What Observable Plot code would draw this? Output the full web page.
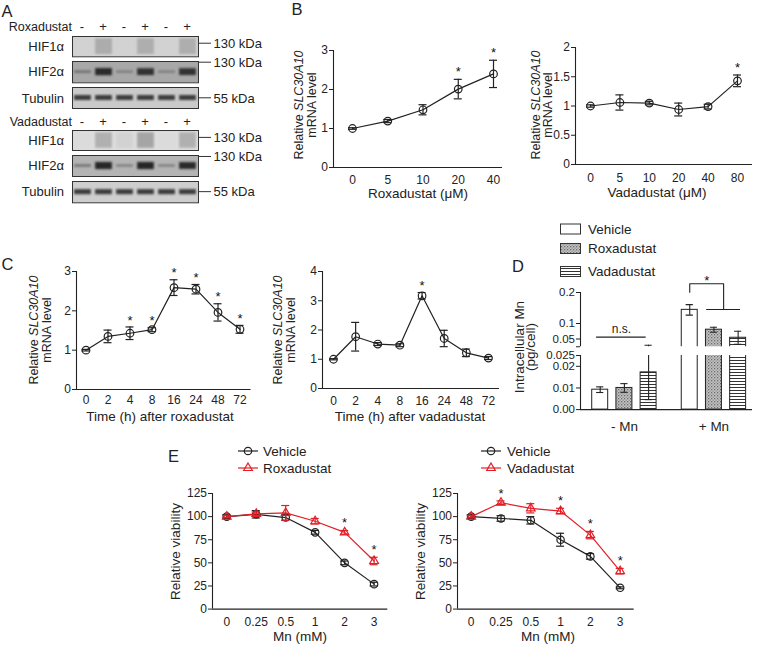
<!DOCTYPE html>
<html><head><meta charset="utf-8">
<script src="https://cdn.jsdelivr.net/npm/d3@7"></script>
<script src="https://cdn.jsdelivr.net/npm/@observablehq/plot@0.6"></script>
<style>
body{margin:0;background:#fff;}
#root{position:relative;width:757px;height:645px;overflow:hidden;background:#fff;}
</style></head><body>
<svg width="0" height="0" style="position:absolute;left:0;top:0">
<defs>
<pattern id="dots" width="3" height="3" patternUnits="userSpaceOnUse"><rect width="3" height="3" fill="#c4c4c4"/><rect x="0" y="0" width="1.3" height="1.3" fill="#6a6a6a"/><rect x="1.5" y="1.5" width="1.3" height="1.3" fill="#8c8c8c"/></pattern>
<pattern id="stripes" width="4" height="3" patternUnits="userSpaceOnUse"><rect width="4" height="3" fill="#fff"/><rect y="1" width="4" height="1" fill="#333"/></pattern>
<filter id="blotBlur" x="-20%" y="-60%" width="140%" height="220%"><feGaussianBlur stdDeviation="0.9"/></filter>
</defs></svg>
<div id="root"></div>
<script>
// ================= DATA =================
// Panel A (western blots): lanes and relative band intensities (0 = blank, 1 = black)
const blotLanes = ["-", "+", "-", "+", "-", "+"];
const blotRows = ["HIF1α", "HIF2α", "Tubulin"];
const blotMarkers = ["130 kDa", "130 kDa", "55 kDa"];
const roxBlotBands = [[0.12, 0.30, 0.12, 0.29, 0.12, 0.29], [0.56, 0.90, 0.52, 0.88, 0.52, 0.88], [0.82, 0.82, 0.82, 0.82, 0.82, 0.82]];
const roxBlotBackground = [0.12, 0.32, 0.16];
const vadBlotBands = [[0.08, 0.28, 0.12, 0.33, 0.08, 0.28], [0.56, 0.92, 0.52, 0.92, 0.52, 0.90], [0.82, 0.82, 0.82, 0.82, 0.82, 0.82]];
const vadBlotBackground = [0.07, 0.26, 0.14];

// Panel B
const roxDose = ["0", "5", "10", "20", "40"];
const roxDoseMean = [1.0, 1.19, 1.48, 2.01, 2.40];
const roxDoseErr = [0.02, 0.04, 0.13, 0.25, 0.35];
const roxDoseSig = [0, 0, 0, 1, 1];
const vadDose = ["0", "5", "10", "20", "40", "80"];
const vadDoseMean = [1.0, 1.06, 1.05, 0.94, 0.99, 1.43];
const vadDoseErr = [0.02, 0.13, 0.03, 0.11, 0.04, 0.10];
const vadDoseSig = [0, 0, 0, 0, 0, 1];

// Panel C
const timeLabels = ["0", "2", "4", "8", "16", "24", "48", "72"];
const roxTimeMean = [1.0, 1.35, 1.43, 1.52, 2.59, 2.55, 1.96, 1.53];
const roxTimeErr = [0.02, 0.16, 0.16, 0.05, 0.20, 0.12, 0.22, 0.10];
const roxTimeSig = [0, 0, 1, 1, 1, 1, 1, 1];
const vadTimeMean = [1.0, 1.77, 1.52, 1.48, 3.17, 1.71, 1.22, 1.04];
const vadTimeErr = [0.02, 0.49, 0.05, 0.05, 0.11, 0.28, 0.13, 0.05];
const vadTimeSig = [0, 0, 0, 0, 1, 0, 0, 0];

// Panel D
const dGroups = ["- Mn", "+ Mn"];
const dTreatments = ["Vehicle", "Roxadustat", "Vadadustat"];
const dBarGroup = ["- Mn", "- Mn", "- Mn", "+ Mn", "+ Mn", "+ Mn"];
const dBarTreatment = ["Vehicle", "Roxadustat", "Vadadustat", "Vehicle", "Roxadustat", "Vadadustat"];
const dMean = [0.0092, 0.0100, 0.0172, 0.144, 0.080, 0.054];
const dErr = [0.0013, 0.0020, 0.0126, 0.017, 0.008, 0.021];
const dSigLabels = ["n.s.", "*"];
const dUpperTicks = [0.025, 0.05, 0.1, 0.2];
const dUpperTickLabels = ["", "0.05", "0.1", "0.2"];
const dLowerTicks = [0, 0.01, 0.02, 0.025];
const dLowerTickLabels = ["0.00", "0.01", "0.02", "0.025"];

// Panel E
const mnLabels = ["0", "0.25", "0.5", "1", "2", "3"];
const vehRoxMean = [100, 102.5, 99, 83, 50, 27];
const vehRoxErr = [2, 4, 3, 2, 2, 2];
const roxViaMean = [100, 103, 104, 95, 83, 52];
const roxViaErr = [1, 2, 8, 3, 2, 4];
const roxViaSig = [0, 0, 0, 0, 1, 1];
const vehVadMean = [100, 98, 96, 75, 57, 23];
const vehVadErr = [2, 3, 4, 7, 3, 1];
const vadViaMean = [100, 115, 109, 106, 80, 41];
const vadViaErr = [1, 2, 5, 3, 4, 3];
const vadViaSig = [0, 1, 0, 1, 1, 1];

// ================= STYLE / HELPERS =================
const FONT = '"Liberation Sans", Arial, Helvetica, sans-serif';
const INK = "#222";
const AXIS = "#222";
const RED = "#e41e26";
const root = document.getElementById("root");
const baseStyle = {background: "transparent", fontFamily: FONT, fontSize: "12px", color: INK, overflow: "visible"};

function place(node, left, top) {
  node.style.position = "absolute";
  node.style.left = left + "px";
  node.style.top = top + "px";
  root.appendChild(node);
}

// ---- Western blot strip ----
const ROW_H = [0.78, 0.34, 0.24];
function blot(bands, bg, row, left, top, height) {
  const n = blotLanes.length;
  const idx = d3.range(n);
  const vmax = d3.max(bands);
  const hh = i => row === 0 ? ROW_H[0] / 2 : ROW_H[row] * Math.pow(bands[i] / vmax, 2) / 2;
  const svg = Plot.plot({
    width: 126, height, margin: 0,
    x: {domain: [0, n], axis: null},
    y: {domain: [0, 1], axis: null},
    color: {type: "linear", domain: [0, 1], range: ["#ececec", "#161616"]},
    style: baseStyle,
    marks: [
      Plot.rect([bg], {x1: () => 0, x2: () => n, y1: () => 0, y2: () => 1, fill: d => d}),
      Plot.rect(idx, {x1: i => i + 0.1, x2: i => i + 0.9, y1: i => 0.5 - hh(i), y2: i => 0.5 + hh(i), fill: i => bands[i]}),
      Plot.frame({stroke: "#333", strokeWidth: 1})
    ]
  });
  d3.select(svg).selectAll('g[aria-label="rect"]').filter((d, i) => i === 1).attr("filter", "url(#blotBlur)");
  place(svg, left, top);
}

// ---- Line chart with error bars ----
function lineChart(cfg) {
  const {labels, series, yDomain, yTicks, axisX, endX, firstX, lastX, yBottom, yTop,
         ml = 25, mr = 5, mt = 12, mb = 28, xPad = 8, capPx = 4, starDy = -7} = cfg;
  const n = labels.length;
  const idx = d3.range(n);
  const ppu = (lastX - firstX) / (n - 1);
  const xDomain = [(axisX - firstX) / ppu, (n - 1) + (endX - lastX) / ppu];
  const width = ml + (endX - axisX) + mr;
  const height = mt + (yBottom - yTop) + mb;
  const cap = capPx / ppu;
  const marks = [
    Plot.ruleX([xDomain[0]], {y1: () => yDomain[0], y2: () => yDomain[1], stroke: AXIS, strokeWidth: 1.1}),
    Plot.ruleY([yDomain[0]], {x1: () => xDomain[0], x2: () => xDomain[1], stroke: AXIS, strokeWidth: 1.1}),
    Plot.axisY({ticks: yTicks, tickSize: 4, tickPadding: 1.5, tickFormat: d => String(d), label: null}),
    Plot.axisX({ticks: idx, tickSize: 0, tickPadding: xPad, tickFormat: i => labels[i], label: null})
  ];
  for (const s of series) {
    const up = i => s.mean[i] + s.err[i];
    const lo = i => s.mean[i] - s.err[i];
    marks.push(
      Plot.line(idx, {x: i => i, y: i => s.mean[i], stroke: s.color, strokeWidth: 1.2}),
      Plot.ruleX(idx, {x: i => i, y1: lo, y2: up, stroke: s.color, strokeWidth: 1.2}),
      Plot.ruleY(idx, {y: up, x1: i => i - cap, x2: i => i + cap, stroke: s.color, strokeWidth: 1.2}),
      Plot.ruleY(idx, {y: lo, x1: i => i - cap, x2: i => i + cap, stroke: s.color, strokeWidth: 1.2}),
      Plot.dot(idx, {x: i => i, y: i => s.mean[i], r: s.r, symbol: s.symbol, stroke: s.color, fill: "none", strokeWidth: 1.2})
    );
    if (s.sig) marks.push(Plot.text(idx.filter(i => s.sig[i]), {x: i => i, y: up, text: () => "*", dy: starDy, fontSize: 13, fill: "#111"}));
  }
  const svg = Plot.plot({
    width, height, marginLeft: ml, marginRight: mr, marginTop: mt, marginBottom: mb,
    x: {domain: xDomain}, y: {domain: yDomain},
    style: baseStyle, marks
  });
  place(svg, axisX - ml, yTop - mt);
}

// ================= PANEL A =================
const blotLeft = 71.5;
const roxTops = [35.7, 60.7, 87.3], roxHeights = [20.3, 21.3, 21];
const vadTops = [130, 155, 181], vadHeights = [20, 21, 21.3];
blotRows.forEach((r, k) => blot(roxBlotBands[k], roxBlotBackground[k], k, blotLeft, roxTops[k], roxHeights[k]));
blotRows.forEach((r, k) => blot(vadBlotBands[k], vadBlotBackground[k], k, blotLeft, vadTops[k], vadHeights[k]));

// ================= PANEL B =================
lineChart({labels: roxDose, series: [{mean: roxDoseMean, err: roxDoseErr, sig: roxDoseSig, color: INK, symbol: "circle", r: 3.8}],
  yDomain: [0, 3], yTicks: [0, 1, 2, 3], axisX: 333, endX: 502, firstX: 352, lastX: 493, yBottom: 167, yTop: 50, xPad: 8, starDy: -7.5});
lineChart({labels: vadDose, series: [{mean: vadDoseMean, err: vadDoseErr, sig: vadDoseSig, color: INK, symbol: "circle", r: 3.8}],
  yDomain: [0, 2], yTicks: [0, 0.5, 1, 1.5, 2], axisX: 575, endX: 752, firstX: 590, lastX: 737, yBottom: 164, yTop: 47, xPad: 8.5, starDy: -7.5});

// ================= PANEL C =================
lineChart({labels: timeLabels, series: [{mean: roxTimeMean, err: roxTimeErr, sig: roxTimeSig, color: INK, symbol: "circle", r: 3.8}],
  yDomain: [0, 3], yTicks: [0, 1, 2, 3], axisX: 75.5, endX: 250, firstX: 85, lastX: 239, yBottom: 389, yTop: 271, xPad: 6, starDy: -6.5});
lineChart({labels: timeLabels, series: [{mean: vadTimeMean, err: vadTimeErr, sig: vadTimeSig, color: INK, symbol: "circle", r: 3.8}],
  yDomain: [0, 4], yTicks: [0, 1, 2, 3, 4], axisX: 322, endX: 499, firstX: 333, lastX: 488, yBottom: 387.5, yTop: 270.5, xPad: 7.5, starDy: -6.5});

// ================= PANEL E =================
lineChart({labels: mnLabels, series: [
    {mean: vehRoxMean, err: vehRoxErr, color: INK, symbol: "circle", r: 3.7},
    {mean: roxViaMean, err: roxViaErr, sig: roxViaSig, color: RED, symbol: "triangle", r: 3.2}],
  yDomain: [0, 125], yTicks: [0, 25, 50, 75, 100, 125], axisX: 211.7, endX: 387, firstX: 226, lastX: 373.3, yBottom: 608.3, yTop: 492.7, ml: 30, xPad: 8, starDy: -7.5});
lineChart({labels: mnLabels, series: [
    {mean: vehVadMean, err: vehVadErr, color: INK, symbol: "circle", r: 3.7},
    {mean: vadViaMean, err: vadViaErr, sig: vadViaSig, color: RED, symbol: "triangle", r: 3.2}],
  yDomain: [0, 125], yTicks: [0, 25, 50, 75, 100, 125], axisX: 457.3, endX: 634, firstX: 471, lastX: 620, yBottom: 608.3, yTop: 492.7, ml: 30, xPad: 8, starDy: -7.5});

// ================= PANEL D (broken y axis: two stacked segments) =================
(function () {
  const GROUP_STEP = 3.7, BAR_HALF = 0.33;
  const idx = d3.range(dMean.length);
  const pos = idx.map(k => dGroups.indexOf(dBarGroup[k]) * GROUP_STEP + dTreatments.indexOf(dBarTreatment[k]));
  const axisX = 580, endX = 752, firstX = 599.7, ppu = 24.2;
  const xDomain = [(axisX - firstX) / ppu, (endX - firstX) / ppu];
  const ml = 40, mr = 5, width = ml + (endX - axisX) + mr;
  const cap = 3.6 / ppu;
  const color = {type: "ordinal", domain: dTreatments, range: ["#ffffff", "url(#dots)", "url(#stripes)"]};
  const up = k => dMean[k] + dErr[k], lo = k => dMean[k] - dErr[k];
  const dataMarks = () => [
    Plot.rect(idx, {x1: k => pos[k] - BAR_HALF, x2: k => pos[k] + BAR_HALF, y1: () => 0, y2: k => dMean[k],
      fill: k => dBarTreatment[k], stroke: INK, strokeWidth: 1, clip: true}),
    Plot.ruleX(idx, {x: k => pos[k], y1: lo, y2: up, stroke: INK, strokeWidth: 1.1, clip: true}),
    Plot.ruleY(idx, {y: up, x1: k => pos[k] - cap, x2: k => pos[k] + cap, stroke: INK, strokeWidth: 1.1, clip: true}),
    Plot.ruleY(idx, {y: lo, x1: k => pos[k] - cap, x2: k => pos[k] + cap, stroke: INK, strokeWidth: 1.1, clip: true})
  ];
  // significance annotations
  const nsY = 0.056, starTop = 0.228, starDrop = 0.201, starBottom = 0.145;
  const nsX1 = pos[0] - 0.15, nsX2 = pos[2] - 0.1;
  const sbX1 = pos[4] - 0.3, sbX2 = pos[5] + 0.1;
  const sLeft = pos[3], sRight = (sbX1 + sbX2) / 2;

  const upperTop = 292, upperBottom = 346.25, mtU = 24;
  const upper = Plot.plot({
    width, height: mtU + (upperBottom - upperTop), marginLeft: ml, marginRight: mr, marginTop: mtU, marginBottom: 0,
    x: {domain: xDomain, axis: null},
    y: {domain: [0.025, 0.2]},
    color, style: baseStyle,
    marks: [
      ...dataMarks(),
      Plot.ruleX([xDomain[0]], {y1: () => 0.025, y2: () => 0.2, stroke: AXIS, strokeWidth: 1.1}),
      Plot.axisY({ticks: dUpperTicks, tickFormat: d => dUpperTickLabels[dUpperTicks.indexOf(d)], tickSize: 4, tickPadding: 1.5, fontSize: 11.5, label: null}),
      Plot.ruleY([nsY], {x1: () => nsX1, x2: () => nsX2, stroke: INK, strokeWidth: 1.1}),
      Plot.text([dSigLabels[0]], {x: () => (nsX1 + nsX2) / 2, y: () => nsY, text: d => d, dy: -7.5, fontSize: 12, fill: INK}),
      Plot.line([[sLeft, starDrop], [sLeft, starTop], [sRight, starTop], [sRight, starBottom]], {x: d => d[0], y: d => d[1], stroke: INK, strokeWidth: 1.1}),
      Plot.ruleY([starBottom], {x1: () => sbX1, x2: () => sbX2, stroke: INK, strokeWidth: 1.1}),
      Plot.text([dSigLabels[1]], {x: () => (sLeft + sRight) / 2, y: () => starTop, text: d => d, dy: -3, fontSize: 13, fill: "#111"})
    ]
  });
  place(upper, axisX - ml, upperTop - mtU);

  const lowerTop = 355.2, lowerBottom = 409.3, mtL = 2, mbL = 30;
  const groupCenters = dGroups.map(g => d3.mean(pos.filter((p, k) => dBarGroup[k] === g)));
  const lower = Plot.plot({
    width, height: mtL + (lowerBottom - lowerTop) + mbL, marginLeft: ml, marginRight: mr, marginTop: mtL, marginBottom: mbL,
    x: {domain: xDomain},
    y: {domain: [0, 0.025]},
    color, style: baseStyle,
    marks: [
      ...dataMarks(),
      Plot.ruleX([xDomain[0]], {y1: () => 0, y2: () => 0.025, stroke: AXIS, strokeWidth: 1.1}),
      Plot.ruleY([0], {x1: () => xDomain[0], x2: () => xDomain[1], stroke: AXIS, strokeWidth: 1.1}),
      Plot.axisY({ticks: dLowerTicks, tickFormat: d => dLowerTickLabels[dLowerTicks.indexOf(d)], tickSize: 4, tickPadding: 1.5, fontSize: 11.5, label: null}),
      Plot.axisX({ticks: groupCenters, tickFormat: d => dGroups[groupCenters.indexOf(d)], tickSize: 0, tickPadding: 11.5, fontSize: 13.5, label: null})
    ]
  });
  place(lower, axisX - ml, lowerTop - mtL);
})();

// ================= TEXT OVERLAY =================
const ov = d3.select(root).append("svg").attr("width", 757).attr("height", 645)
  .style("position", "absolute").style("left", "0px").style("top", "0px")
  .attr("font-family", FONT).attr("fill", INK);
function label(x, y, content, size, anchor = "start", rotate = false) {
  const t = ov.append("text").attr("x", x).attr("y", y).attr("font-size", size).attr("text-anchor", anchor).attr("fill", INK);
  if (typeof content === "string") t.text(content); else content(t);
  if (rotate) t.attr("transform", `rotate(-90,${x},${y})`);
  return t;
}
const GENE = "SLC30A10";
function geneTitle(x1, x2, y) {
  label(x1, y, t => { t.append("tspan").text("Relative "); t.append("tspan").attr("font-style", "italic").text(GENE); }, 12.5, "middle", true);
  label(x2, y, "mRNA level", 12.5, "middle", true);
}

// panel letters
label(1.5, 16.7, "A", 16.5);
label(291.5, 15, "B", 16.5);
label(1.5, 270, "C", 16.5);
label(512, 271.7, "D", 16.5);
label(168, 461.7, "E", 16.5);

// panel A labels
const laneW = 126 / blotLanes.length;
label(72, 31, "Roxadustat", 12.5, "end");
label(72, 126, "Vadadustat", 12.5, "end");
blotLanes.forEach((s, i) => {
  label(blotLeft + (i + 0.5) * laneW, 31, s, 13, "middle");
  label(blotLeft + (i + 0.5) * laneW, 126, s, 13, "middle");
});
const markerFrac = [0.37, 0.07, 0.5];
[[roxTops, roxHeights], [vadTops, vadHeights]].forEach(([tops, hs]) => {
  blotRows.forEach((r, k) => {
    const cy = tops[k] + hs[k] / 2;
    label(64, cy + 4.7, r, 13, "end");
    const my = tops[k] + hs[k] * markerFrac[k];
    ov.append("line").attr("x1", 199).attr("x2", 211).attr("y1", my).attr("y2", my).attr("stroke", "#333").attr("stroke-width", 1);
    label(213.5, my + 4.7, blotMarkers[k], 13);
  });
});

// axis titles
label(418, 198, "Roxadustat (μM)", 13.5, "middle");
geneTitle(303, 315.5, 105);
label(657, 197, "Vadadustat (μM)", 13.5, "middle");
geneTitle(540, 552, 105);
label(160, 420.5, "Time (h) after roxadustat", 13.5, "middle");
geneTitle(38, 50.5, 330);
label(410, 420.5, "Time (h) after vadadustat", 13.5, "middle");
geneTitle(282, 294.5, 330);
label(523.5, 347, "Intracellular Mn", 13.5, "middle", true);
label(535, 347, "(pg/cell)", 13.5, "middle", true);
label(300, 640.5, "Mn (mM)", 13.5, "middle");
label(548, 640.5, "Mn (mM)", 13.5, "middle");
label(179.5, 551.5, "Relative viability", 13.5, "middle", true);
label(424.5, 551.5, "Relative viability", 13.5, "middle", true);

// panel D legend
const dLegendFill = ["#ffffff", "url(#dots)", "url(#stripes)"];
const dLegendY = [224, 243.5, 266.5];
dTreatments.forEach((t, k) => {
  ov.append("rect").attr("x", 560.5).attr("y", dLegendY[k]).attr("width", 20).attr("height", 10)
    .attr("fill", dLegendFill[k]).attr("stroke", "#333").attr("stroke-width", 1);
  label(588, dLegendY[k] + 9.5, t, 13.5);
});

// panel E legends
function eLegend(cx, tx, names) {
  const ys = [451, 468];
  const cols = [INK, RED];
  names.forEach((nm, k) => {
    ov.append("line").attr("x1", cx - 10).attr("x2", cx + 10).attr("y1", ys[k]).attr("y2", ys[k]).attr("stroke", cols[k]).attr("stroke-width", 1.2);
    if (k === 0) ov.append("circle").attr("cx", cx).attr("cy", ys[k]).attr("r", 3.7).attr("fill", "none").attr("stroke", cols[k]).attr("stroke-width", 1.2);
    else ov.append("path").attr("d", d3.symbol(d3.symbolTriangle, Math.PI * 3.2 * 3.2)()).attr("transform", `translate(${cx},${ys[k]})`)
      .attr("fill", "none").attr("stroke", cols[k]).attr("stroke-width", 1.2);
    label(tx, ys[k] + 4.8, nm, 13.5);
  });
}
eLegend(248, 263, ["Vehicle", "Roxadustat"]);
eLegend(491, 507, ["Vehicle", "Vadadustat"]);
</script>
</body></html>
